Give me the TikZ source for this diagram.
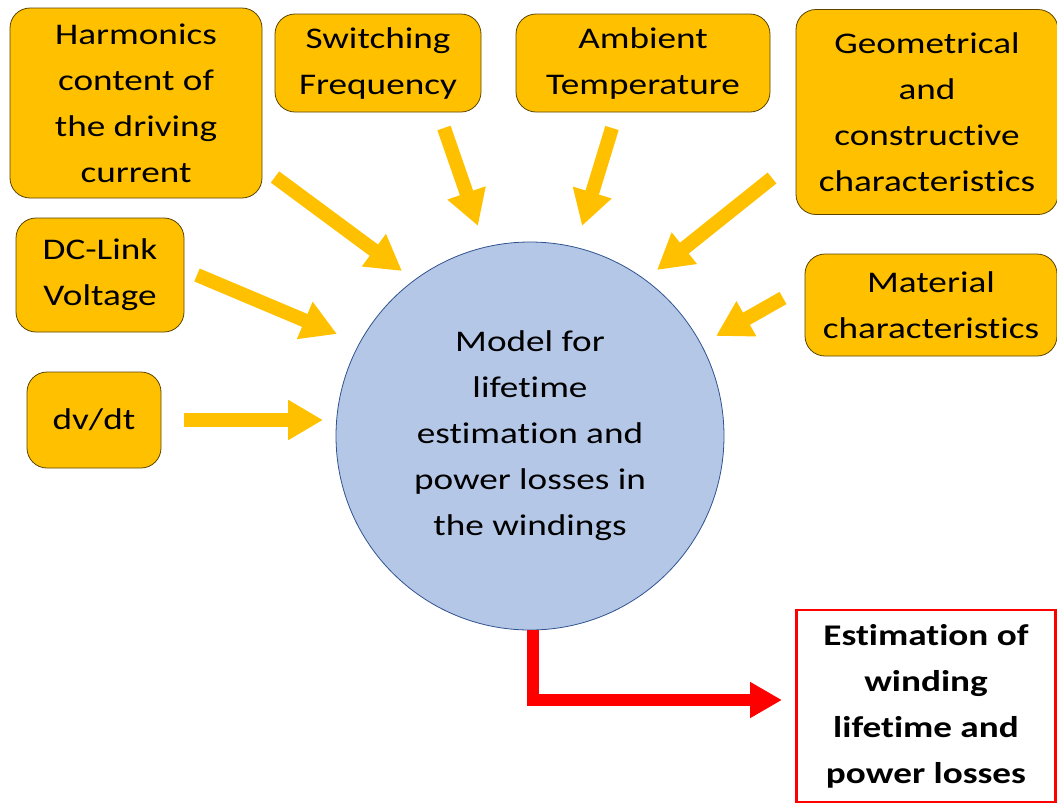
\documentclass[tikz,border=0pt]{standalone}
\usepackage{fontspec}
\setmainfont{Carlito}[FakeStretch=1.24, Ligatures=NoCommon]
\usetikzlibrary{arrows.meta}
\definecolor{boxyellow}{HTML}{FFC000}
\definecolor{boxedge}{HTML}{5A4500}
\definecolor{circfill}{HTML}{B4C7E7}
\definecolor{circedge}{HTML}{2F528F}
\definecolor{outred}{HTML}{FF0000}
\tikzset{
  inbox/.style={draw=boxedge, line width=0.8pt, fill=boxyellow, rounded corners=20pt,
    align=center, inner sep=0pt, font=\fontsize{30}{46}\selectfont},
  blockarrow/.style={draw=boxyellow, line width=14pt,
    -{Triangle[length=35pt,width=38pt]}},
  redarrow/.style={draw=outred, line width=12pt,
    -{Triangle[length=32pt,width=34pt]}},
}
\begin{document}
\begin{tikzpicture}[x=1pt,y=-1pt]
\useasboundingbox (0,0) rectangle (1057,804);
% input boxes
\node[inbox, minimum width=252pt, minimum height=190pt] (harm) at (136,103)
  {Harmonics\\content of\\the driving\\current};
\node[inbox, minimum width=206pt, minimum height=98pt] (sw) at (378,63)
  {Switching\\Frequency};
\node[inbox, minimum width=254pt, minimum height=98pt] (amb) at (643,63)
  {Ambient\\Temperature};
\node[inbox, minimum width=262pt, minimum height=205pt] (geo) at (927,112)
  {Geometrical\\and\\constructive\\characteristics};
\node[inbox, minimum width=168pt, minimum height=114pt] (dc) at (100,275)
  {DC-Link\\Voltage};
\node[inbox, minimum width=252pt, minimum height=102pt] (mat) at (931,305)
  {Material\\characteristics};
\node[inbox, minimum width=134pt, minimum height=96pt] (dv) at (94,420)
  {dv/dt};
% central model
\node[circle, draw=circedge, line width=0.8pt, fill=circfill, minimum size=388pt,
  inner sep=0pt, align=center, font=\fontsize{30}{46}\selectfont] (model) at (530,436)
  {Model for\\lifetime\\estimation and\\power losses in\\the windings};
% output box
\node[draw=outred, line width=2.5pt, fill=white, minimum width=259pt, minimum height=192pt,
  inner sep=0pt, align=center, font=\bfseries\fontsize{30}{46}\selectfont] (out) at (926,706)
  {Estimation of\\winding\\lifetime and\\power losses};
% arrow coordinates
\coordinate (a1s) at (275,177); \coordinate (a1e) at (402,271);
\coordinate (a2s) at (444,128); \coordinate (a2e) at (478,226);
\coordinate (a3s) at (612,128); \coordinate (a3e) at (582,226);
\coordinate (a4s) at (772,178); \coordinate (a4e) at (657,270);
\coordinate (a5s) at (197,275); \coordinate (a5e) at (337,334);
\coordinate (a6s) at (783,298); \coordinate (a6e) at (716,336);
\coordinate (a7s) at (184,420); \coordinate (a7e) at (323,420);
\coordinate (redend) at (782,700);
\draw[blockarrow] (a1s) -- (a1e);
\draw[blockarrow] (a2s) -- (a2e);
\draw[blockarrow] (a3s) -- (a3e);
\draw[blockarrow] (a4s) -- (a4e);
\draw[blockarrow] (a5s) -- (a5e);
\draw[blockarrow] (a6s) -- (a6e);
\draw[blockarrow] (a7s) -- (a7e);
\draw[redarrow] ([xshift=3pt]model.south) |- (redend);
\end{tikzpicture}
\end{document}
